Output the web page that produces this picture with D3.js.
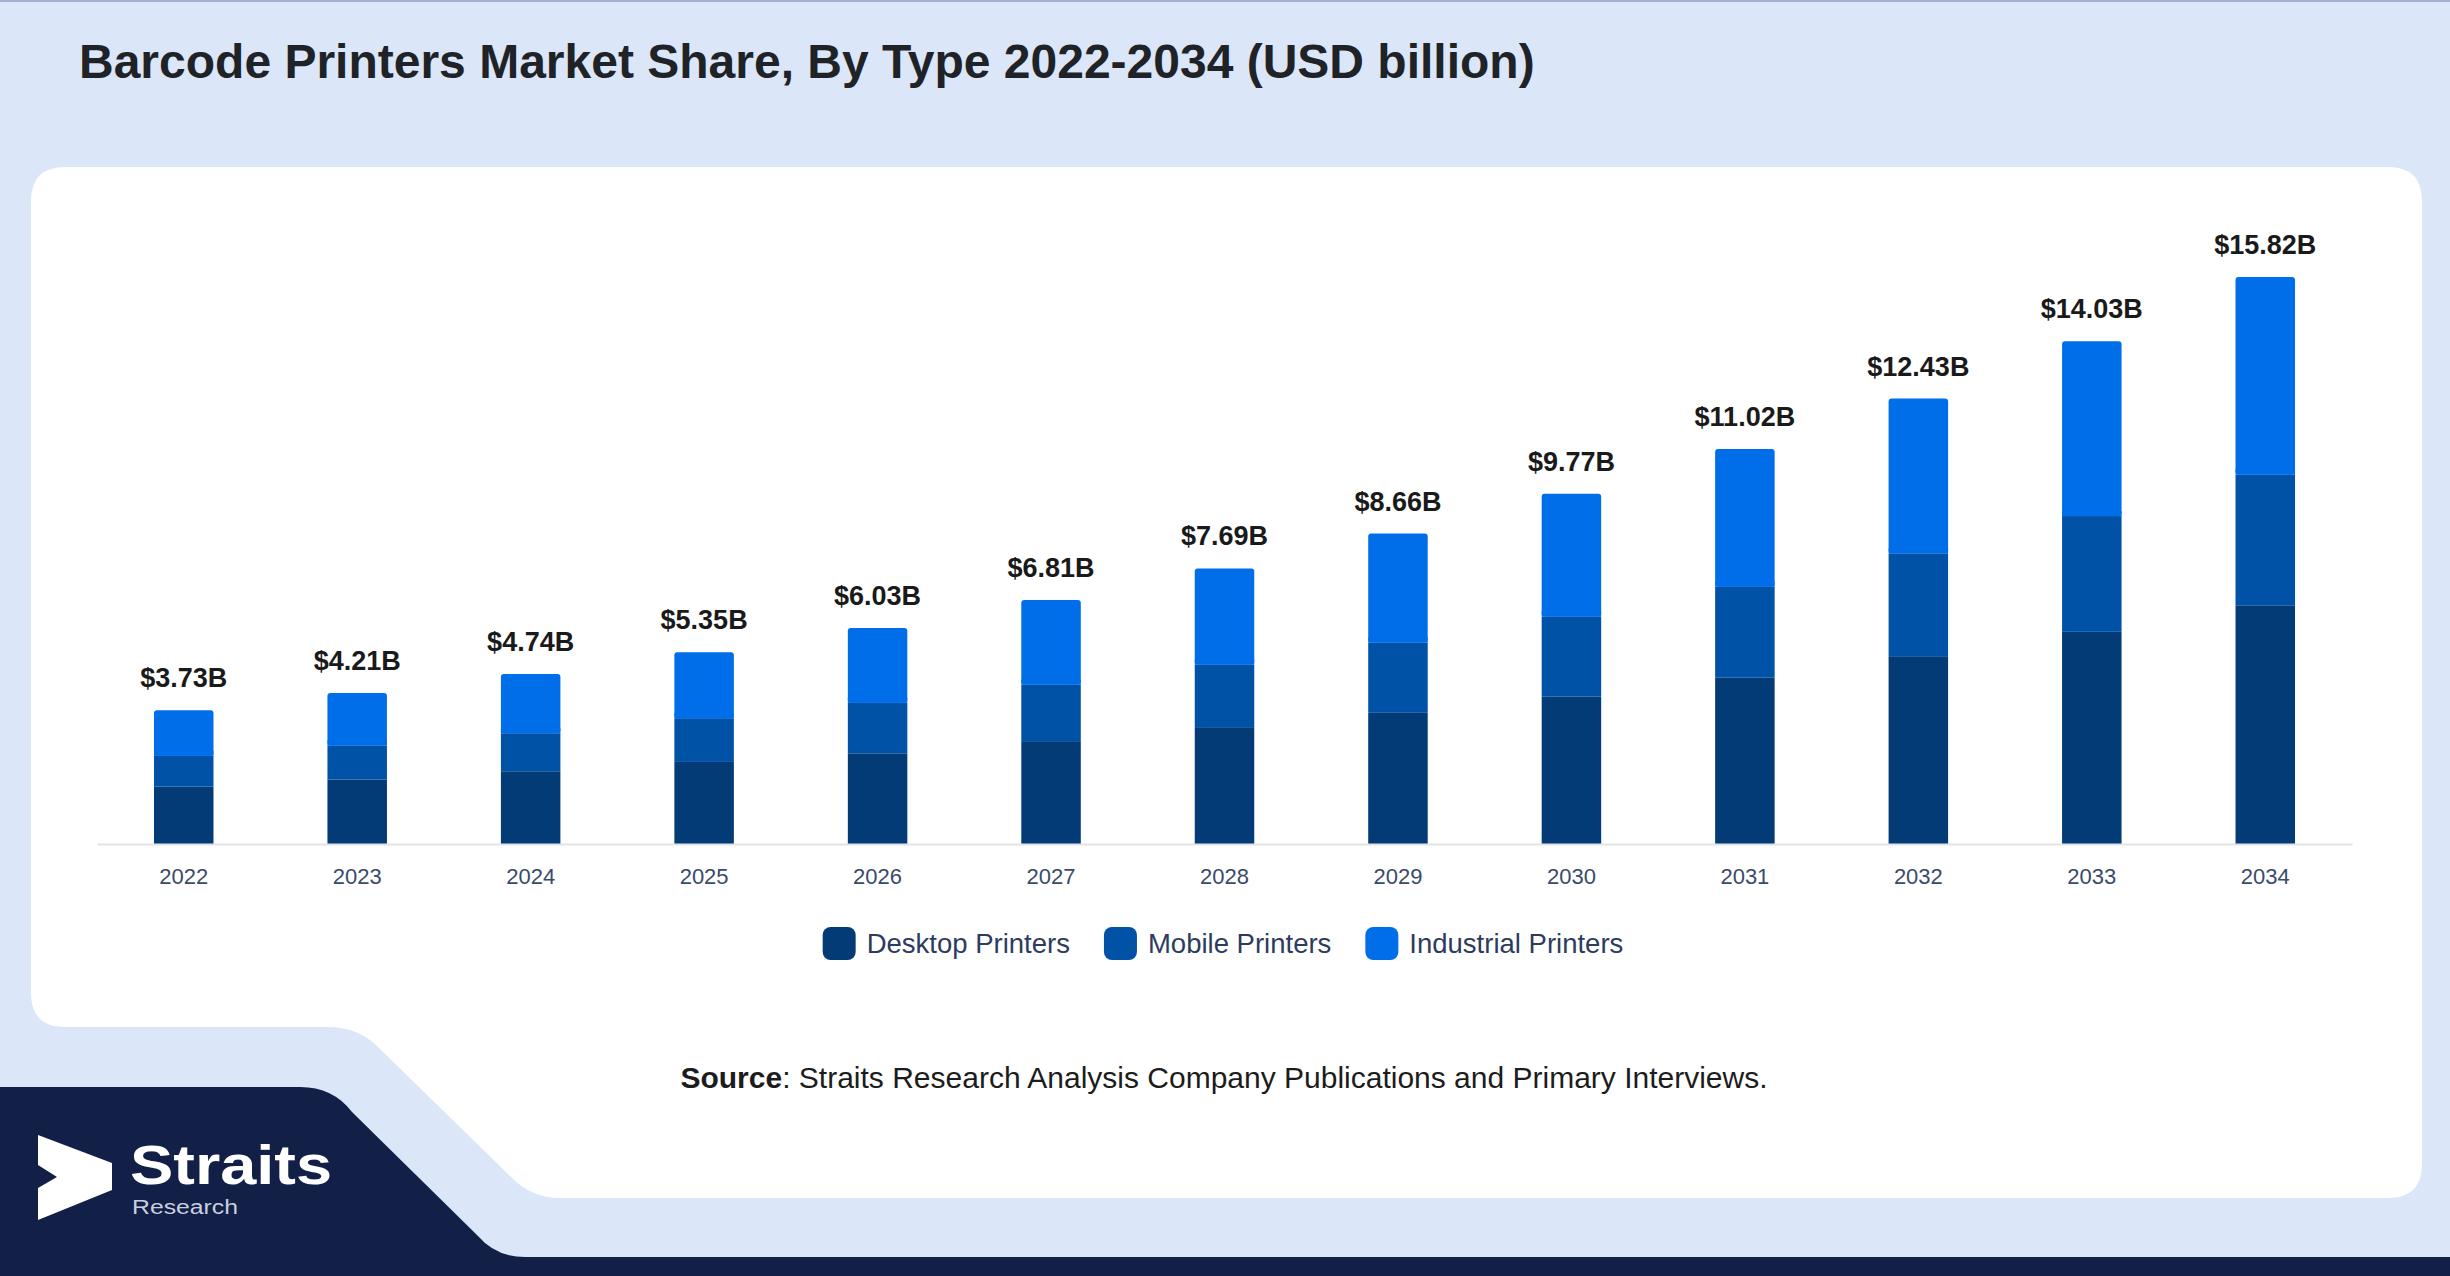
<!DOCTYPE html>
<html>
<head>
<meta charset="utf-8">
<script src="https://cdn.jsdelivr.net/npm/d3@7"></script>
<style>
  html, body { margin: 0; padding: 0; background: #dbe6f8; }
  svg { display: block; }
  text { font-family: "Liberation Sans", Arial, Helvetica, sans-serif; }
</style>
</head>
<body>
<svg id="chart" width="2450" height="1276"></svg>
<script>
const years = ['2022','2023','2024','2025','2026','2027','2028','2029','2030','2031','2032','2033','2034'];
const desktop = [1.60,1.80,2.03,2.29,2.53,2.87,3.26,3.66,4.11,4.64,5.24,5.92,6.66];
const mobile = [0.86,0.95,1.06,1.22,1.41,1.58,1.75,1.96,2.24,2.54,2.87,3.23,3.65];
const industrial = [1.27,1.46,1.65,1.84,2.09,2.36,2.68,3.04,3.42,3.84,4.32,4.88,5.51];
const totals = [3.73,4.21,4.74,5.35,6.03,6.81,7.69,8.66,9.77,11.02,12.43,14.03,15.82];
const seriesNames = ['Desktop Printers','Mobile Printers','Industrial Printers'];
const seriesColors = ['#033b77','#0052a6','#006ee9'];
const titleText = 'Barcode Printers Market Share, By Type 2022-2034 (USD billion)';

const svg = d3.select('#chart');

// background
svg.append('rect').attr('x',0).attr('y',0).attr('width',2450).attr('height',1276).attr('fill','#dbe6f8');
svg.append('rect').attr('x',0).attr('y',0).attr('width',2450).attr('height',2).attr('fill','#a3b0d0');

// white card with stepped bottom-left
svg.append('path')
  .attr('d','M65,167 H2388 Q2422,167 2422,201 V1164 Q2422,1198 2388,1198 H560 Q532,1198 512,1178 L378,1047 Q358,1027 328,1027 H65 Q31,1027 31,993 V201 Q31,167 65,167 Z')
  .attr('fill','#ffffff');

// navy footer shape
svg.append('path')
  .attr('d','M0,1087 H300 Q333,1087 352,1112 L478,1236 Q496,1257 525,1257 H2450 V1276 H0 Z')
  .attr('fill','#121f47');

// logo
svg.append('path')
  .attr('d','M38,1135 L112,1163 L112,1190 L38,1220 L38,1188 L57,1177 L38,1165 Z')
  .attr('fill','#ffffff');
svg.append('text').attr('x',130).attr('y',1184)
  .attr('font-family','"Open Sans", "Noto Sans", sans-serif').attr('font-weight',600)
  .attr('font-size',56).attr('fill','#ffffff')
  .attr('textLength',202).attr('lengthAdjust','spacingAndGlyphs')
  .text('Straits');
svg.append('text').attr('x',132).attr('y',1214)
  .attr('font-family','"Open Sans", "Noto Sans", sans-serif')
  .attr('font-size',20).attr('fill','#c9cfe0')
  .attr('textLength',106).attr('lengthAdjust','spacingAndGlyphs')
  .text('Research');

// title
svg.append('text').attr('x',79).attr('y',78)
  .attr('font-size',48).attr('font-weight','bold').attr('fill','#1f2328')
  .text(titleText);

// scales
const x = d3.scaleBand().domain(years).range([97,2352]).paddingInner(0.657).paddingOuter(0.3285);
const y = d3.scaleLinear().domain([0, d3.max(totals)]).range([844, 277]);

const rows = years.map((yr,i)=>({year:yr, 'Desktop Printers':desktop[i], 'Mobile Printers':mobile[i], 'Industrial Printers':industrial[i], total:totals[i]}));
const stack = d3.stack().keys(seriesNames)(rows);

const g = svg.append('g');
stack.forEach((layer, li) => {
  g.append('g').attr('fill', seriesColors[li])
    .selectAll('rect').data(layer).join('rect')
    .attr('x', d => x(d.data.year))
    .attr('y', d => y(d[1]))
    .attr('width', x.bandwidth())
    .attr('height', d => y(d[0]) - y(d[1]))
    .attr('rx', li === 2 ? 3 : 0);
});
// square off bottom of top segment rounding
g.append('g').attr('fill', seriesColors[2])
  .selectAll('rect').data(stack[2]).join('rect')
  .attr('x', d => x(d.data.year))
  .attr('y', d => y(d[0]) - 5)
  .attr('width', x.bandwidth())
  .attr('height', 5);

// axis
const axis = svg.append('g').attr('transform','translate(0,844)')
  .call(d3.axisBottom(x).tickSize(0).tickPadding(24));
axis.select('.domain').attr('stroke','#e3e3e3').attr('stroke-width',2);
axis.selectAll('text').attr('font-size',22).attr('fill','#3a4a6b')
  .attr('font-family','"Liberation Sans", Arial, sans-serif');

// value labels
svg.append('g').selectAll('text').data(rows).join('text')
  .attr('x', d => x(d.year) + x.bandwidth()/2)
  .attr('y', d => y(d.total) - 23)
  .attr('text-anchor','middle')
  .attr('font-size',27).attr('font-weight','bold').attr('fill','#1a1a1a')
  .text(d => '$' + d.total.toFixed(2) + 'B');

// legend
const legend = svg.append('g');
let cx = 0;
seriesNames.forEach((name,i) => {
  const it = legend.append('g').attr('transform',`translate(${cx},0)`);
  it.append('rect').attr('x',0).attr('y',927).attr('width',33).attr('height',33).attr('rx',8).attr('fill',seriesColors[i]);
  const t = it.append('text').attr('x',44).attr('y',953).attr('font-size',27.5).attr('fill','#2d3c5e').text(name);
  const w = t.node().getComputedTextLength();
  cx += 44 + w + 34;
});
const totalW = cx - 34;
legend.attr('transform', `translate(${1223 - totalW/2},0)`);

// source
const src = svg.append('text').attr('x',1224).attr('y',1088).attr('text-anchor','middle')
  .attr('font-size',30).attr('fill','#1c1c1c');
src.append('tspan').attr('font-weight','bold').text('Source');
src.append('tspan').text(': Straits Research Analysis Company Publications and Primary Interviews.');
</script>
</body>
</html>
